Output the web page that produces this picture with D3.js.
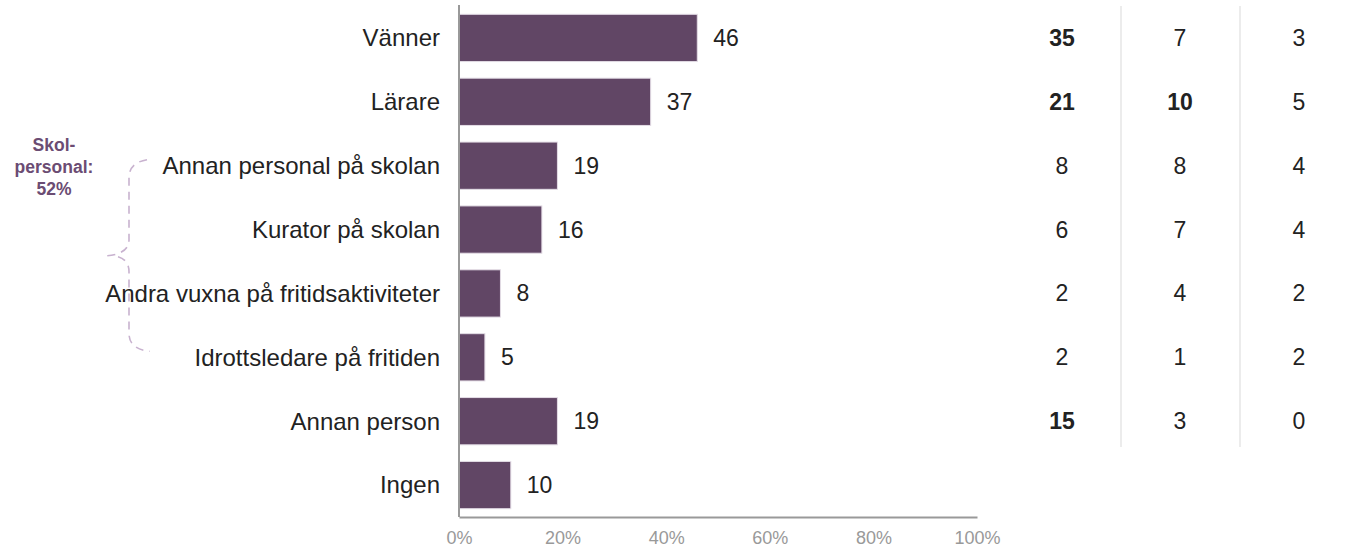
<!DOCTYPE html>
<html>
<head>
<meta charset="utf-8">
<script src="https://cdn.jsdelivr.net/npm/d3@7"></script>
<style>
  body { margin: 0; background: #fff; }
  svg { font-family: "Liberation Sans", Arial, sans-serif; }
</style>
</head>
<body>
<svg class="chart"></svg>
<script>
const width = 1351;
const height = 548;

const categories = [
  "Vänner",
  "Lärare",
  "Annan personal på skolan",
  "Kurator på skolan",
  "Andra vuxna på fritidsaktiviteter",
  "Idrottsledare på fritiden",
  "Annan person",
  "Ingen"
];
const percent = [46, 37, 19, 16, 8, 5, 19, 10];
const xTicks = [0, 20, 40, 60, 80, 100];

// side table, one array per column (first seven rows)
const col1 = [35, 21, 8, 6, 2, 2, 15];
const col2 = [7, 10, 8, 7, 4, 1, 3];
const col3 = [3, 5, 4, 4, 2, 2, 0];
const bold1 = [true, true, false, false, false, false, true];
const bold2 = [false, true, false, false, false, false, false];
const bold3 = [false, false, false, false, false, false, false];

const braceText = ["Skol-", "personal:", "52%"];

const margin = { top: 6, left: 459, bottom: 31 };
const plotRight = 977;

const svg = d3.select(".chart").attr("width", width).attr("height", height);

const x = d3.scaleLinear().domain([0, 100]).range([margin.left, plotRight]);
const y = d3.scaleBand()
  .domain(categories)
  .range([margin.top, height - margin.bottom])
  .paddingInner(0.26)
  .paddingOuter(0.13);

// bars
svg.selectAll("rect.bar")
  .data(categories)
  .enter()
  .append("rect")
  .attr("class", "bar")
  .attr("x", x(0))
  .attr("y", (d) => y(d))
  .attr("width", (d, i) => x(percent[i]) - x(0))
  .attr("height", y.bandwidth())
  .attr("fill", "#614665")
  .attr("stroke", "#e4dde6")
  .attr("stroke-width", 1);

// value labels
svg.selectAll("text.val")
  .data(categories)
  .enter()
  .append("text")
  .attr("class", "val")
  .attr("x", (d, i) => x(percent[i]) + 16)
  .attr("y", (d) => y(d) + y.bandwidth() / 2)
  .attr("dy", "0.35em")
  .style("font-size", "23px")
  .attr("fill", "#222")
  .text((d, i) => percent[i]);

// category labels
svg.selectAll("text.cat")
  .data(categories)
  .enter()
  .append("text")
  .attr("class", "cat")
  .attr("x", 440)
  .attr("y", (d) => y(d) + y.bandwidth() / 2)
  .attr("dy", "0.35em")
  .attr("text-anchor", "end")
  .style("font-size", "24px")
  .attr("fill", "#222")
  .text((d) => d);

// axes
const axisY = height - margin.bottom;
const xAxis = svg.append("g")
  .attr("transform", `translate(0,${axisY})`)
  .call(d3.axisBottom(x).tickValues(xTicks).tickSize(0).tickPadding(14).tickFormat((d) => d + "%"));
xAxis.select(".domain").attr("stroke", "#999").attr("stroke-width", 2);
xAxis.selectAll("text").attr("fill", "#999").style("font-size", "18px").style("font-family", "Liberation Sans, Arial, sans-serif");

svg.append("line")
  .attr("x1", x(0)).attr("x2", x(0))
  .attr("y1", 5).attr("y2", axisY)
  .attr("stroke", "#999")
  .attr("stroke-width", 2);

// side table
const colX = [1062, 1180, 1299];
const tableCols = [col1, col2, col3];
const boldCols = [bold1, bold2, bold3];
const tableRows = categories.slice(0, col1.length);

tableCols.forEach((col, c) => {
  svg.selectAll(`text.tc${c}`)
    .data(col)
    .enter()
    .append("text")
    .attr("class", `tc${c}`)
    .attr("x", colX[c])
    .attr("y", (d, i) => y(tableRows[i]) + y.bandwidth() / 2)
    .attr("dy", "0.35em")
    .attr("text-anchor", "middle")
    .style("font-size", "23px")
    .style("font-weight", (d, i) => (boldCols[c][i] ? "bold" : "normal"))
    .attr("fill", "#222")
    .text((d) => d);
});

[1121, 1240].forEach((sx) => {
  svg.append("line")
    .attr("x1", sx).attr("x2", sx)
    .attr("y1", 6).attr("y2", 447)
    .attr("stroke", "#d9d9d9")
    .attr("stroke-width", 1);
});

// brace for school staff
const yTop = y(categories[2]) + y.bandwidth() / 2 - 6;
const yBot = y(categories[5]) + y.bandwidth() / 2 - 6;
const yMid = y(categories[4]) - 14;
const spine = 129;
const bracePath = d3.path();
bracePath.moveTo(147, yTop);
bracePath.quadraticCurveTo(spine, yTop + 3, spine, yTop + 18);
bracePath.lineTo(spine, yMid - 16);
bracePath.quadraticCurveTo(spine, yMid - 2, 107, yMid);
bracePath.moveTo(118, yMid + 1);
bracePath.quadraticCurveTo(spine, yMid + 4, spine, yMid + 16);
bracePath.lineTo(spine, yBot - 18);
bracePath.quadraticCurveTo(spine, yBot - 2, 150, yBot);

svg.append("path")
  .attr("d", bracePath.toString())
  .attr("fill", "none")
  .attr("stroke", "#c8b2cf")
  .attr("stroke-width", 1.6)
  .attr("stroke-dasharray", "8,6");

svg.append("text")
  .attr("text-anchor", "middle")
  .attr("fill", "#6b4c73")
  .style("font-size", "17.5px")
  .style("font-weight", "bold")
  .selectAll("tspan")
  .data(braceText)
  .enter()
  .append("tspan")
  .attr("x", 54)
  .attr("y", (d, i) => 151 + i * 22)
  .text((d) => d);
</script>
</body>
</html>
